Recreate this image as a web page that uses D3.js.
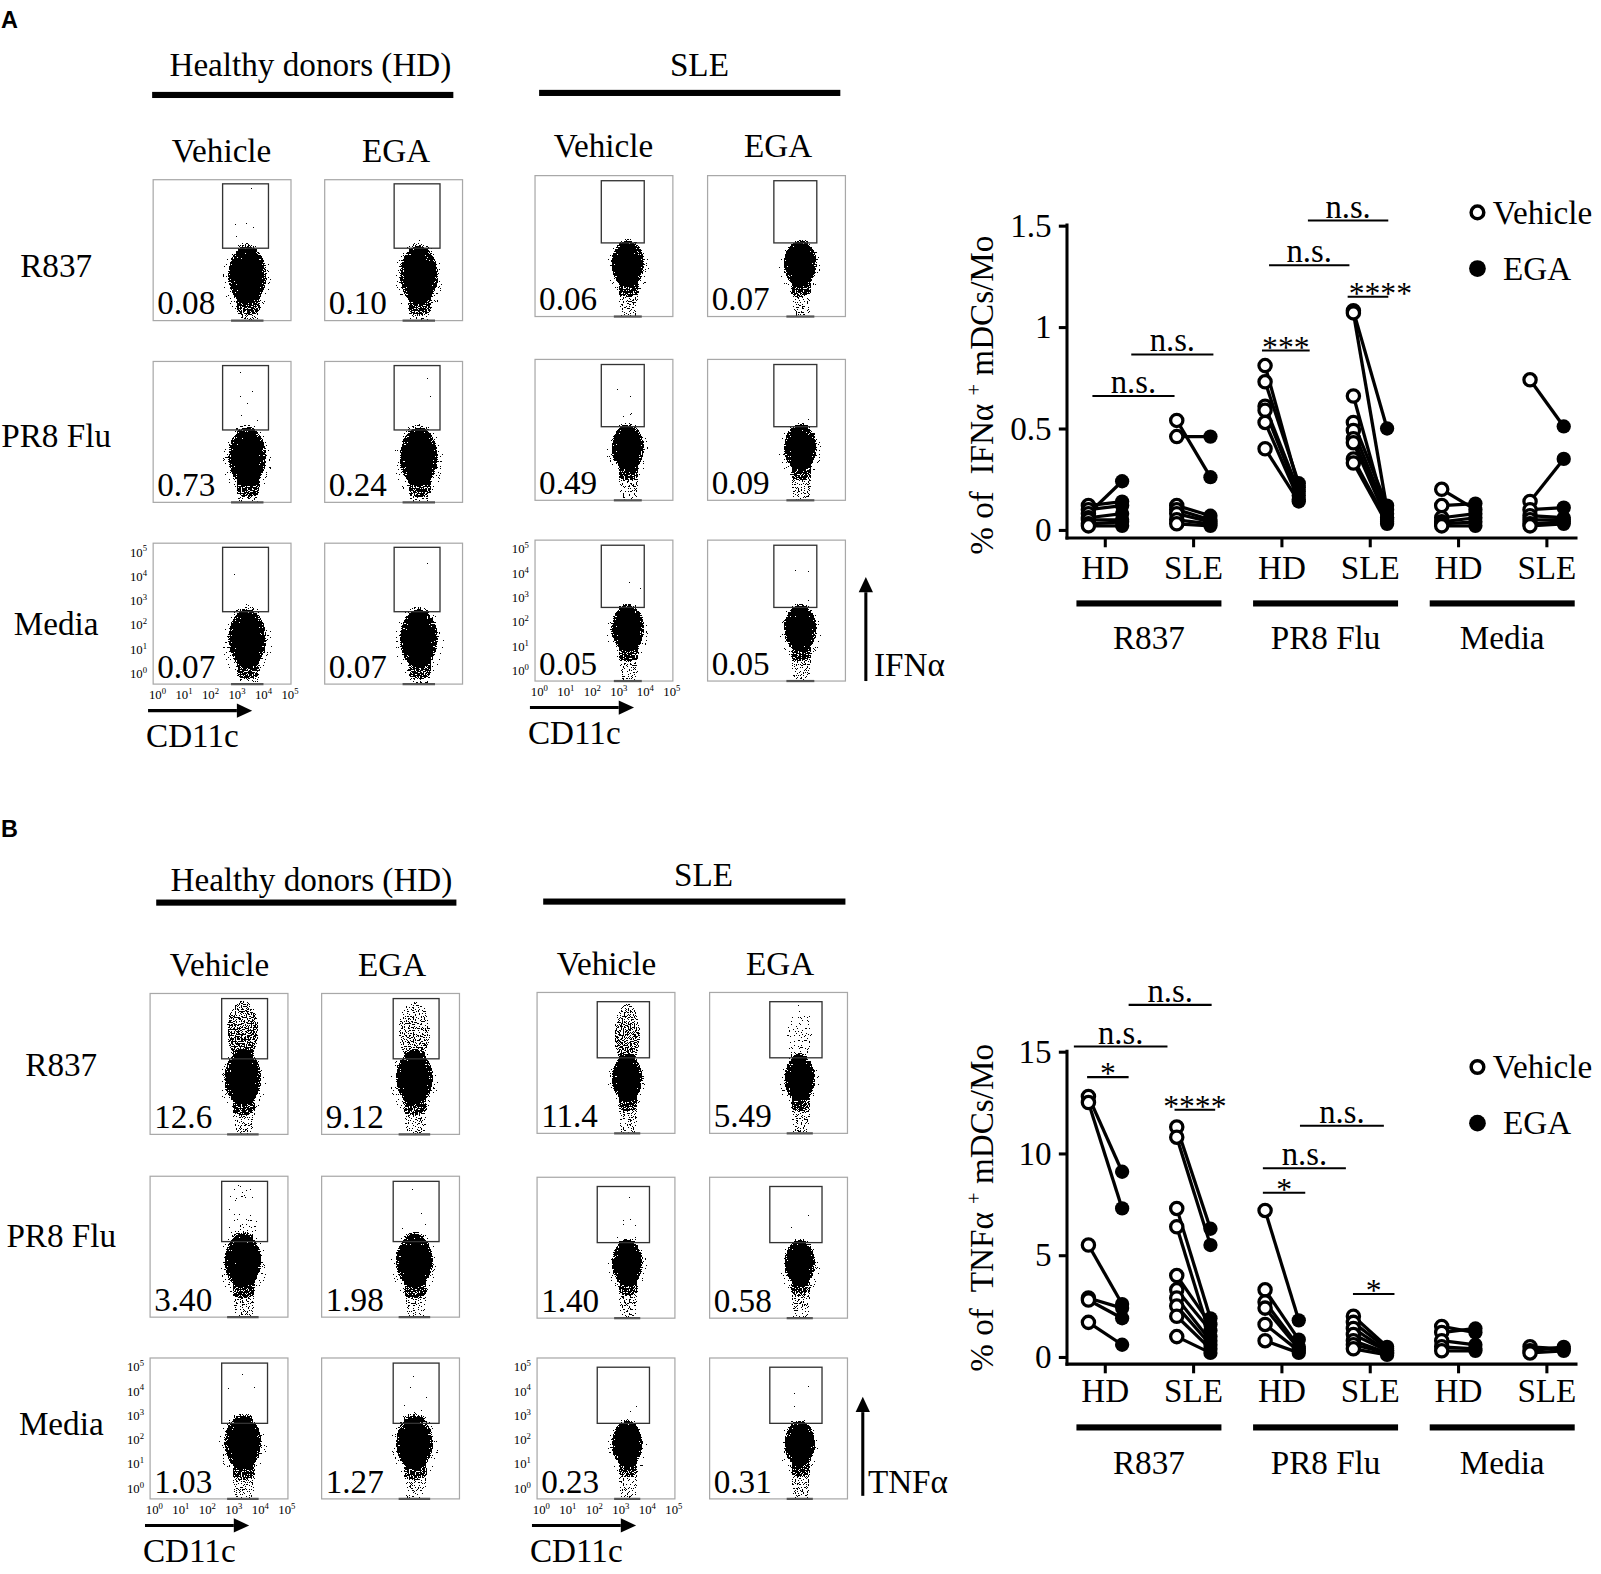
<!DOCTYPE html>
<html><head><meta charset="utf-8">
<script src="https://cdn.jsdelivr.net/npm/d3@7"></script>
<style>body{margin:0;background:#fff} svg{display:block}</style>
</head><body>
<script>
// ---------------- DATA ----------------
const flowRowLabels = ["R837", "PR8 Flu", "Media"];
const conditions = ["Vehicle", "EGA"];
const donorGroups = ["Healthy donors (HD)", "SLE"];
const ifnPercent = [["0.08","0.10","0.06","0.07"],["0.73","0.24","0.49","0.09"],["0.07","0.07","0.05","0.05"]];
const tnfPercent = [["12.6","9.12","11.4","5.49"],["3.40","1.98","1.40","0.58"],["1.03","1.27","0.23","0.31"]];
const logDecades = [0, 1, 2, 3, 4, 5];

const stimuli = ["R837", "PR8 Flu", "Media"];
const cohorts = ["HD", "SLE"];
const ifnTicks = [0, 0.5, 1, 1.5];
const tnfTicks = [0, 5, 10, 15];

// order: R837 HD, R837 SLE, PR8 HD, PR8 SLE, Media HD, Media SLE (paired donors)
const ifnVehicle = [
  [0.12,0.10,0.08,0.06,0.05,0.03,0.02],
  [0.54,0.46,0.12,0.10,0.08,0.05,0.03],
  [0.81,0.73,0.61,0.59,0.53,0.40],
  [1.08,1.07,0.66,0.53,0.49,0.45,0.43,0.35,0.33],
  [0.20,0.12,0.06,0.04,0.03,0.02],
  [0.74,0.14,0.10,0.07,0.05,0.03,0.02]
];
const ifnEGA = [
  [0.14,0.12,0.24,0.08,0.05,0.04,0.02],
  [0.26,0.46,0.07,0.05,0.04,0.03,0.02],
  [0.21,0.23,0.19,0.17,0.15,0.14],
  [0.50,0.10,0.06,0.12,0.08,0.06,0.05,0.04,0.03],
  [0.10,0.13,0.08,0.06,0.04,0.02],
  [0.51,0.35,0.11,0.06,0.05,0.04,0.03]
];
const tnfVehicle = [
  [12.8,12.5,5.5,2.9,2.8,1.7],
  [11.3,10.8,7.3,6.4,4.0,3.3,2.9,2.5,2.0,1.0],
  [7.2,3.3,2.7,2.4,1.6,0.8],
  [2.0,1.7,1.4,1.1,0.8,0.6,0.4],
  [1.5,1.2,0.8,0.5,0.3],
  [0.5,0.3,0.2]
];
const tnfEGA = [
  [9.1,7.3,2.6,2.4,1.9,0.6],
  [6.3,5.5,1.9,1.0,1.6,1.3,0.8,0.6,0.4,0.2],
  [1.8,0.85,0.5,0.4,0.3,0.2],
  [0.5,0.4,0.3,0.3,0.2,0.2,0.1],
  [1.2,1.4,0.6,0.4,0.3],
  [0.4,0.5,0.3]
];
// significance brackets: x in category-tick units, y in data units
const ifnSig = [
  {label:"n.s.", x1:-0.14, x2:0.79, y:0.66},
  {label:"n.s.", x1:0.30, x2:1.23, y:0.865},
  {label:"***",  x1:1.78, x2:2.32, y:0.885},
  {label:"n.s.", x1:1.86, x2:2.77, y:1.305},
  {label:"n.s.", x1:2.30, x2:3.21, y:1.525},
  {label:"****", x1:2.75, x2:3.21, y:1.15, tx:3.12}
];
const tnfSig = [
  {label:"n.s.", x1:0.27, x2:1.21, y:17.3},
  {label:"n.s.", x1:-0.35, x2:0.71, y:15.25},
  {label:"*",    x1:-0.2, x2:0.27, y:13.75},
  {label:"****", x1:0.79, x2:1.25, y:12.15},
  {label:"n.s.", x1:2.21, x2:3.16, y:11.36},
  {label:"n.s.", x1:1.79, x2:2.73, y:9.27},
  {label:"*",    x1:1.79, x2:2.27, y:8.07},
  {label:"*",    x1:2.81, x2:3.28, y:3.09}
];

// ---------------- SETUP ----------------
const S = 1601 / 1568;
const SERIF = '"Liberation Serif","Times New Roman",serif';
const FS = 32.5;
const svg = d3.select("body").append("svg").attr("width", 1601).attr("height", 1574);
const defs = svg.append("defs");

// stipple filter: converts a density (alpha) field into dot speckle
const f = defs.append("filter").attr("id", "stipple")
  .attr("x", "-0.1").attr("y", "-0.1").attr("width", "1.2").attr("height", "1.2")
  .attr("color-interpolation-filters", "sRGB");
f.append("feTurbulence").attr("type", "fractalNoise").attr("baseFrequency", "0.85")
  .attr("numOctaves", "2").attr("seed", "11").attr("result", "noise");
f.append("feColorMatrix").attr("in", "noise").attr("type", "matrix")
  .attr("values", "0 0 0 0 0  0 0 0 0 0  0 0 0 0 0  1 0 0 0 0").attr("result", "nA");
f.append("feComposite").attr("in", "SourceAlpha").attr("in2", "nA").attr("operator", "arithmetic")
  .attr("k1", 0).attr("k2", 1).attr("k3", -1).attr("k4", 0.5).attr("result", "d");
const ct = f.append("feComponentTransfer").attr("in", "d");
["feFuncR","feFuncG","feFuncB"].forEach(n => ct.append(n).attr("type","linear").attr("slope",0).attr("intercept",0));
ct.append("feFuncA").attr("type", "discrete").attr("tableValues", "0 1");

const rg = defs.append("radialGradient").attr("id", "coreGrad");
[[0,0.98],[0.45,0.85],[0.75,0.62],[0.9,0.5],[1,0.4]].forEach(([o,a]) =>
  rg.append("stop").attr("offset", o).attr("stop-color", "#000").attr("stop-opacity", a));
const tg = defs.append("linearGradient").attr("id", "tailGrad").attr("x1",0).attr("y1",0).attr("x2",0).attr("y2",1);
[[0,0.5],[0.6,0.4],[1,0.36]].forEach(([o,a]) =>
  tg.append("stop").attr("offset", o).attr("stop-color", "#000").attr("stop-opacity", a));
const sg = defs.append("linearGradient").attr("id", "sprayGrad").attr("x1",0).attr("y1",0).attr("x2",0).attr("y2",1);
[[0,0.8],[0.5,0.9],[1,1]].forEach(([o,a]) =>
  sg.append("stop").attr("offset", o).attr("stop-color", "#000").attr("stop-opacity", a));

const root = svg.append("g").attr("transform", `scale(${S})`);

function txt(g, x, y, s, o = {}) {
  return g.append("text").attr("x", x).attr("y", y)
    .attr("font-family", o.family || SERIF).attr("font-size", o.size || FS)
    .attr("font-weight", o.weight || "normal")
    .attr("text-anchor", o.anchor || "middle").attr("fill", "#000").text(s);
}
function arrow(g, x1, y1, x2, y2) {
  const ang = Math.atan2(y2 - y1, x2 - x1), L = 15, W = 7;
  const bx = x2 - L * Math.cos(ang), by = y2 - L * Math.sin(ang);
  g.append("line").attr("x1", x1).attr("y1", y1).attr("x2", bx).attr("y2", by)
    .attr("stroke", "#000").attr("stroke-width", 3);
  const px = -Math.sin(ang) * W, py = Math.cos(ang) * W;
  g.append("polygon").attr("points", `${x2},${y2} ${bx+px},${by+py} ${bx-px},${by-py}`).attr("fill", "#000");
}

let clipId = 0;
function flowPlot(g, left, top, pctText, cloud, gate, showAxes) {
  const w = 135, h = 138;
  const pct = +pctText;
  const fx = d3.scaleLinear().domain([-0.2, 5.0]).range([left, left + w]);
  const fy = d3.scaleLinear().domain([-0.42, 5.38]).range([top + h, top]);
  const id = "clip" + (clipId++);
  defs.append("clipPath").attr("id", id).append("rect")
    .attr("x", left).attr("y", top).attr("width", w).attr("height", h);
  const cg = g.append("g").attr("clip-path", `url(#${id})`);
  const dg = cg.append("g").attr("filter", "url(#stipple)");
  const cx = fx(cloud.x), cy = fy(cloud.y);
  const rx = fx(cloud.x + cloud.rx) - cx, ry = cy - fy(cloud.y + cloud.ry);
  // halo
  dg.append("ellipse").attr("cx", cx).attr("cy", cy + 4).attr("rx", rx * 1.3).attr("ry", ry * 1.25)
    .attr("fill", "#000").attr("fill-opacity", 0.3);
  // tail to the axis
  const tailTop = cy, tailBot = top + h + 6;
  dg.append("ellipse").attr("cx", cx + 1).attr("cy", (tailTop + tailBot) / 2)
    .attr("rx", rx * 0.6).attr("ry", (tailBot - tailTop) / 2 + 8).attr("fill", "url(#tailGrad)");
  // spray into the gate, density from the gated percentage
  const sprayTop = fy(gate[3]) + 2, sprayBot = cy - ry * 0.6;
  const aMax = Math.min(0.56, 0.2 + 0.03 * pct);
  dg.append("ellipse").attr("cx", cx).attr("cy", (sprayTop + sprayBot) / 2)
    .attr("rx", rx * 0.85).attr("ry", (sprayBot - sprayTop) / 2)
    .attr("fill", "url(#sprayGrad)").attr("fill-opacity", aMax);
  // dense core
  dg.append("ellipse").attr("cx", cx).attr("cy", cy).attr("rx", rx).attr("ry", ry).attr("fill", "url(#coreGrad)");
  // frame
  g.append("rect").attr("x", left).attr("y", top).attr("width", w).attr("height", h)
    .attr("fill", "none").attr("stroke", "#a8a8a8").attr("stroke-width", 1.2);
  g.append("line").attr("x1", cx - rx * 0.85).attr("x2", cx + rx * 0.85)
    .attr("y1", top + h).attr("y2", top + h).attr("stroke", "#555").attr("stroke-width", 2.2);
  // gate
  g.append("rect").attr("x", fx(gate[0])).attr("y", fy(gate[3]))
    .attr("width", fx(gate[1]) - fx(gate[0])).attr("height", fy(gate[2]) - fy(gate[3]))
    .attr("fill", "none").attr("stroke", "#333").attr("stroke-width", 1.3);
  // gated percent
  txt(g, left + 4, top + h - 6, pctText, {anchor: "start"});
  if (showAxes) {
    logDecades.forEach(k => {
      const t = txt(g, left - 6, fy(k) + 4, "10", {anchor: "end", size: 12.5});
      t.append("tspan").attr("dy", -5).attr("font-size", 8.5).text(k);
      const t2 = txt(g, fx(k) - 1, top + h + 15, "10", {size: 12.5});
      t2.append("tspan").attr("dy", -5).attr("font-size", 8.5).text(k);
    });
  }
}

function drawPanel(P) {
  const g = root.append("g");
  txt(g, 1, P.letterY, P.letter, {anchor: "start", family: '"Liberation Sans",Arial,sans-serif', weight: "bold", size: 23});
  donorGroups.forEach((name, gi) => {
    txt(g, P.headerX[gi], P.headerY[gi], name);
    g.append("rect").attr("x", P.barX[gi][0]).attr("y", P.barY[gi])
      .attr("width", P.barX[gi][1] - P.barX[gi][0]).attr("height", 6).attr("fill", "#000");
    conditions.forEach((c, ci) => txt(g, P.colX[gi][ci], P.colHeadY[gi], c));
    flowRowLabels.forEach((r, ri) => {
      conditions.forEach((c, ci) => {
        flowPlot(g, P.boxX[gi][ci], P.boxY[gi][ri], P.pct[ri][gi * 2 + ci],
          P.cloud[gi], P.gate[gi], ri === 2 && ci === 0);
      });
    });
    // CD11c axis arrow under the lower-left plot of each group
    const bx = P.boxX[gi][0], by = P.boxY[gi][2] + 138;
    arrow(g, bx - 5, by + 26, bx + 97, by + 26);
    txt(g, bx - 7, by + 62, "CD11c", {anchor: "start"});
  });
  flowRowLabels.forEach((r, ri) => txt(g, P.rowLabelX, P.rowLabelY[ri], r));
  arrow(g, P.mArrow.x, P.mArrow.y1, P.mArrow.x, P.mArrow.y2);
  txt(g, P.mText.x, P.mText.y, P.marker, {anchor: "start"});
}

drawPanel({
  letter: "A", letterY: 27,
  headerX: [304, 685], headerY: [74, 74], barX: [[149, 444], [528, 823]], barY: [90, 88],
  colX: [[217, 388], [591, 762]], colHeadY: [159, 154],
  rowLabelX: 55, rowLabelY: [271, 438, 622],
  boxX: [[150, 318], [524, 693]], boxY: [[176, 354, 532], [172, 352, 529]],
  pct: ifnPercent,
  gate: [[2.42, 4.15, 2.56, 5.21], [2.30, 3.92, 2.61, 5.17]],
  cloud: [{x: 3.35, y: 1.45, rx: 0.72, ry: 1.2}, {x: 3.3, y: 1.75, rx: 0.62, ry: 0.95}],
  marker: "IFNα", mArrow: {x: 848, y1: 667, y2: 565}, mText: {x: 856, y: 662}
});
drawPanel({
  letter: "B", letterY: 820,
  headerX: [305, 689], headerY: [873, 868], barX: [[153, 447], [532, 828]], barY: [881, 880],
  colX: [[215, 384], [594, 764]], colHeadY: [956, 955],
  rowLabelX: 60, rowLabelY: [1054, 1221, 1405],
  boxX: [[147, 315], [526, 695]], boxY: [[973, 1152, 1330], [972, 1153, 1330]],
  pct: tnfPercent,
  gate: [[2.5, 4.23, 2.69, 5.17], [2.07, 4.04, 2.69, 5.0]],
  cloud: [{x: 3.3, y: 1.9, rx: 0.7, ry: 1.1}, {x: 3.2, y: 1.85, rx: 0.58, ry: 0.95}],
  marker: "TNFα", mArrow: {x: 845, y1: 1465, y2: 1368}, mText: {x: 850, y: 1462}
});

// ---------------- PAIRED CHARTS ----------------
function drawChart(c) {
  const g = root.append("g");
  const y = d3.scaleLinear().domain([0, c.ticks[c.ticks.length - 1]]).range(c.range);
  const xs = d3.scalePoint().domain(d3.range(6)).range([1082, 1514.5]);
  const xu = d3.scaleLinear().domain([0, 5]).range([1082, 1514.5]);
  const ya = g.append("g").attr("transform", "translate(1045,0)")
    .call(d3.axisLeft(y).tickValues(c.ticks).tickSize(8).tickPadding(7).tickFormat(d3.format("")));
  ya.select(".domain").remove();
  ya.selectAll("line").attr("stroke", "#000").attr("stroke-width", 3);
  ya.selectAll("text").attr("font-family", SERIF).attr("font-size", FS).attr("fill", "#000");
  g.append("line").attr("x1", 1045).attr("x2", 1045).attr("y1", c.range[1] - 2).attr("y2", c.xAxisY + 1.5)
    .attr("stroke", "#000").attr("stroke-width", 3);
  const xa = g.append("g").attr("transform", `translate(0,${c.xAxisY})`)
    .call(d3.axisBottom(xs).tickSize(9).tickPadding(c.xPad).tickFormat(i => cohorts[i % 2]));
  xa.select(".domain").remove();
  xa.selectAll("line").attr("stroke", "#000").attr("stroke-width", 3);
  xa.selectAll("text").attr("font-family", SERIF).attr("font-size", FS).attr("fill", "#000");
  g.append("line").attr("x1", 1043.5).attr("x2", 1545).attr("y1", c.xAxisY).attr("y2", c.xAxisY)
    .attr("stroke", "#000").attr("stroke-width", 3);
  stimuli.forEach((s, k) => {
    const cx = (xs(2 * k) + xs(2 * k + 1)) / 2;
    g.append("rect").attr("x", cx - 71).attr("y", c.barY).attr("width", 142).attr("height", 6).attr("fill", "#000");
    txt(g, cx, c.groupY, s);
  });
  // paired points
  c.veh.forEach((vals, i) => {
    vals.forEach((v, j) => {
      g.append("line").attr("x1", xs(i) - 16).attr("y1", y(v)).attr("x2", xs(i) + 17).attr("y2", y(c.ega[i][j]))
        .attr("stroke", "#000").attr("stroke-width", 3.2);
    });
  });
  c.veh.forEach((vals, i) => {
    c.ega[i].forEach(v => g.append("circle").attr("cx", xs(i) + 17).attr("cy", y(v)).attr("r", 7).attr("fill", "#000"));
    vals.forEach(v => g.append("circle").attr("cx", xs(i) - 16).attr("cy", y(v)).attr("r", 6)
      .attr("fill", "#fff").attr("stroke", "#000").attr("stroke-width", 3.2));
  });
  // significance
  c.sig.forEach(s => {
    const yy = y(s.y);
    g.append("line").attr("x1", xu(s.x1)).attr("x2", xu(s.x2)).attr("y1", yy).attr("y2", yy)
      .attr("stroke", "#000").attr("stroke-width", 2);
    const star = s.label.indexOf("*") === 0;
    const tx = s.tx !== undefined ? xu(s.tx) : (xu(s.x1) + xu(s.x2)) / 2;
    txt(g, tx, star ? yy + 7 : yy - 3, s.label, {size: star ? 31 : 32});
  });
  // legend
  g.append("circle").attr("cx", 1447).attr("cy", c.legY).attr("r", 6.2).attr("fill", "#fff")
    .attr("stroke", "#000").attr("stroke-width", 3.4);
  txt(g, 1462, c.legY + 11, "Vehicle", {anchor: "start"});
  g.append("circle").attr("cx", 1447).attr("cy", c.legY + 55).attr("r", 8.2).attr("fill", "#000");
  txt(g, 1472, c.legY + 66, "EGA", {anchor: "start"});
  // y title
  const t = g.append("text").attr("transform", `translate(973,${c.titleY}) rotate(-90)`)
    .attr("font-family", SERIF).attr("font-size", FS).attr("text-anchor", "middle").attr("fill", "#000");
  t.append("tspan").text("% of\u00A0 " + c.marker + "\u00A0");
  t.append("tspan").attr("dy", -12).attr("font-size", 20).text("+");
  t.append("tspan").attr("dy", 12).text("\u00A0mDCs/Mo");
}

drawChart({
  ticks: ifnTicks, range: [519, 221], xAxisY: 527, xPad: 8, barY: 588, groupY: 636,
  veh: ifnVehicle, ega: ifnEGA, sig: ifnSig, legY: 208, titleY: 387, marker: "IFNα"
});
drawChart({
  ticks: tnfTicks, range: [1329, 1030], xAxisY: 1336, xPad: 5, barY: 1395, groupY: 1444,
  veh: tnfVehicle, ega: tnfEGA, sig: tnfSig, legY: 1045, titleY: 1183, marker: "TNFα"
});
</script>
</body></html>
